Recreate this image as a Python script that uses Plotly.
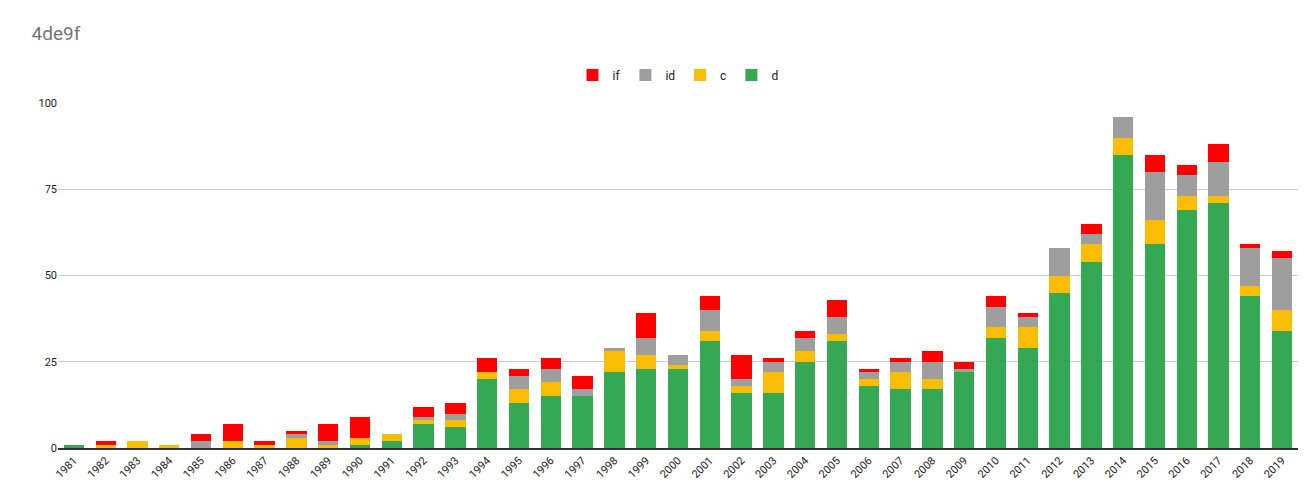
import plotly.graph_objects as go

years = [str(y) for y in range(1981, 2020)]
d  = [1,0,0,0,0,0,0,0,0,1,2,7,6,20,13,15,15,22,23,23,31,16,16,25,31,18,17,17,22,32,29,45,54,85,59,69,71,44,34]
c  = [0,1,2,1,0,2,1,3,1,2,2,1,2,2,4,4,0,6,4,1,3,2,6,3,2,2,5,3,0,3,6,5,5,5,7,4,2,3,6]
id_ = [0,0,0,0,2,0,0,1,1,0,0,1,2,0,4,4,2,1,5,3,6,2,3,4,5,2,3,5,1,6,3,8,3,6,14,6,10,11,15]
if_ = [0,1,0,0,2,5,1,1,5,6,0,3,3,4,2,3,4,0,7,0,4,7,1,2,5,1,1,3,2,3,1,0,3,0,5,3,5,1,2]

fig = go.Figure()
for name, vals, col in [("d", d, "#34a853"), ("c", c, "#fbbc04"), ("id", id_, "#9e9e9e"), ("if", if_, "#ff0000")]:
    fig.add_trace(go.Bar(x=years, y=vals, name=name, marker_color=col, marker_line_width=0))

fig.update_layout(
    barmode="stack", bargap=0.36,
    width=1310, height=495,
    paper_bgcolor="white", plot_bgcolor="white",
    margin=dict(l=50, r=20, t=95, b=55, autoexpand=False),
    font=dict(family="Roboto, Arial, sans-serif", size=12, color="#222"),
    title=dict(text="4de9f", x=0.018, y=0.963, xanchor="left", yanchor="top",
               font=dict(size=19, color="#757575")),
    legend=dict(orientation="h", x=0.5, xanchor="center", y=1.081, yanchor="middle",
                traceorder="reversed", font=dict(size=12, color="#222")),
    xaxis=dict(tickangle=-45, showline=True, linecolor="#333", linewidth=1.5,
               tickfont=dict(size=11), automargin=False),
    yaxis=dict(range=[0, 100], tickvals=[0, 25, 50, 75, 100], gridcolor="#cccccc",
               zeroline=False, tickfont=dict(size=11), automargin=False),
)
fig.write_html("out.html")
